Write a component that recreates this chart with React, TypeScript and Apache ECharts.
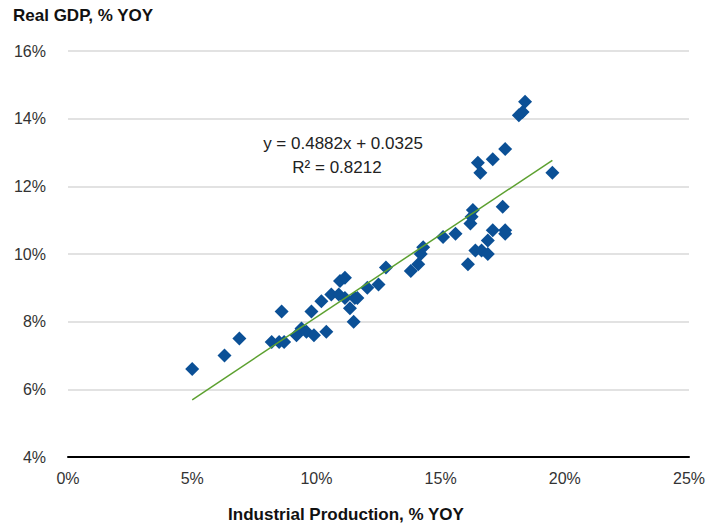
import React, { useEffect, useRef } from "react";
import * as echarts from "echarts";

const ipValues = [5.0, 6.3, 6.9, 8.2, 8.5, 8.7, 8.6, 9.2, 9.4, 9.6, 9.9, 9.8, 10.2, 10.4, 10.6, 10.9, 10.95, 11.15, 11.15, 11.35, 11.5, 11.55, 11.65, 12.05, 12.5, 12.8, 13.8, 14.1, 14.2, 14.3, 15.1, 15.6, 16.1, 16.2, 16.25, 16.3, 16.4, 16.65, 16.9, 16.9, 17.1, 17.5, 17.6, 17.6, 16.5, 16.6, 17.1, 17.6, 18.15, 18.3, 18.4, 19.5];
const gdpValues = [6.6, 7.0, 7.5, 7.4, 7.4, 7.4, 8.3, 7.6, 7.8, 7.7, 7.6, 8.3, 8.6, 7.7, 8.8, 8.8, 9.2, 9.3, 8.7, 8.4, 8.0, 8.7, 8.7, 9.0, 9.1, 9.6, 9.5, 9.7, 10.0, 10.2, 10.5, 10.6, 9.7, 10.9, 11.1, 11.3, 10.1, 10.1, 10.0, 10.4, 10.7, 11.4, 10.7, 10.6, 12.7, 12.4, 12.8, 13.1, 14.1, 14.2, 14.5, 12.4];
const trendSlope = 0.4882;
const trendIntercept = 3.25;
const equationText = "y = 0.4882x + 0.0325";
const r2Text = "R² = 0.8212";
const yTitle = "Real GDP, % YOY";
const xTitle = "Industrial Production, % YOY";

const FONT = "'Liberation Sans', Arial, sans-serif";

export default function App() {
  const ref = useRef<HTMLDivElement>(null);
  useEffect(() => {
    if (!ref.current) return;
    const chart = echarts.init(ref.current, null, { renderer: "svg" });
    const pts = ipValues.map((x, i) => [x, gdpValues[i]]);
    const xmin = Math.min(...ipValues);
    const xmax = Math.max(...ipValues);
    const trend = [
      [xmin, trendSlope * xmin + trendIntercept],
      [xmax, trendSlope * xmax + trendIntercept],
    ];
    chart.setOption({
      animation: false,
      grid: { left: 68, right: 31, top: 51, bottom: 68 },
      xAxis: {
        type: "value",
        min: 0,
        max: 25,
        interval: 5,
        axisLine: { show: true, onZero: false, lineStyle: { color: "#000", width: 2 } },
        axisTick: { show: false },
        splitLine: { show: false },
        axisLabel: { formatter: "{value}%", fontFamily: FONT, fontSize: 16, color: "#333", margin: 13 },
      },
      yAxis: {
        type: "value",
        min: 4,
        max: 16,
        interval: 2,
        axisLine: { show: false },
        axisTick: { show: false },
        splitLine: { show: true, lineStyle: { color: "#d9d9d9", width: 1.5 } },
        axisLabel: { formatter: "{value}%", fontFamily: FONT, fontSize: 16, color: "#333", margin: 22 },
      },
      series: [
        {
          type: "scatter",
          data: pts,
          symbol: "diamond",
          symbolSize: 14,
          itemStyle: { color: "#0b5096", opacity: 1 },
          z: 3,
        },
        {
          type: "line",
          data: trend,
          showSymbol: false,
          symbol: "none",
          lineStyle: { color: "#5da130", width: 1.5 },
          z: 4,
        },
      ],
      graphic: [
        { type: "text", left: 13, top: 7, style: { text: yTitle, font: `bold 17px ${FONT}`, fill: "#111" } },
        { type: "text", x: 346, y: 514, style: { text: xTitle, font: `bold 17px ${FONT}`, fill: "#111", textAlign: "center", textVerticalAlign: "middle" } },
        { type: "text", x: 343, y: 143, style: { text: equationText, font: `17px ${FONT}`, fill: "#222", textAlign: "center", textVerticalAlign: "middle" } },
        { type: "text", x: 337, y: 167, style: { text: r2Text, font: `17px ${FONT}`, fill: "#222", textAlign: "center", textVerticalAlign: "middle" } },
      ],
    });
    return () => chart.dispose();
  }, []);
  return <div ref={ref} style={{ width: 720, height: 525, position: "absolute", left: 0, top: 0 }} />;
}
